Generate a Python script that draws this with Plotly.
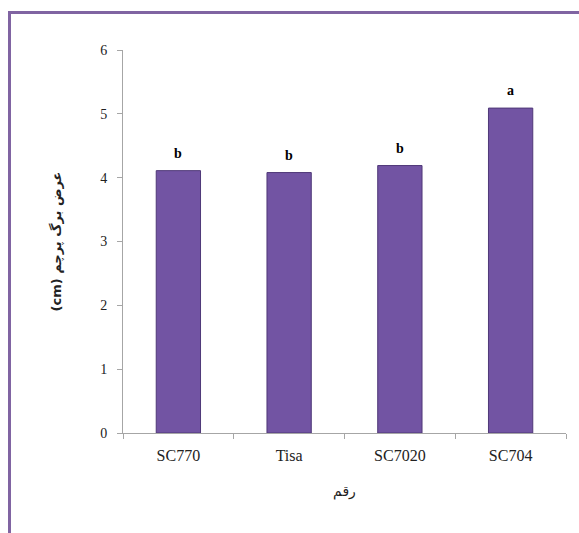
import plotly.graph_objects as go

categories = ["SC770", "Tisa", "SC7020", "SC704"]
values = [4.11, 4.08, 4.19, 5.09]
letters = ["b", "b", "b", "a"]
y_ticks = [0, 1, 2, 3, 4, 5, 6]
x_title = "رقم"
y_title = "(cm) عرض برگ پرچم"

W, H = 579, 533
ML, MR, MT, MB = 123, 13, 50, 100
pw, ph = W - ML - MR, H - MT - MB

def px_x(p):
    return (p - ML) / pw

def px_y(p):
    return (H - MB - p) / ph

fig = go.Figure()
fig.add_trace(go.Bar(
    x=categories, y=values,
    cliponaxis=False,
    width=0.4,
    marker=dict(color="#7254A3", line=dict(color="#4F3878", width=1)),
))

for c, v, t in zip(categories, values, letters):
    fig.add_annotation(x=c, y=v, text=t, showarrow=False, yanchor="bottom", yshift=8,
                       font=dict(family="Liberation Serif", size=14, color="#000000", weight="bold"))

frame_color = "#8064A2"
fig.add_shape(type="line", xref="paper", yref="paper",
              x0=px_x(9.5), x1=px_x(9.5), y0=px_y(H + 5), y1=px_y(12.5),
              line=dict(color=frame_color, width=3))
fig.add_shape(type="line", xref="paper", yref="paper",
              x0=px_x(8), x1=px_x(W + 5), y0=px_y(12.5), y1=px_y(12.5),
              line=dict(color=frame_color, width=3))

fig.update_layout(
    width=W, height=H,
    margin=dict(l=ML, r=MR, t=MT, b=MB),
    paper_bgcolor="white", plot_bgcolor="white",
    showlegend=False,
    font=dict(family="Liberation Serif", color="#222222"),
    xaxis=dict(
        showline=True, linecolor="#A6A6A6", linewidth=1,
        ticks="outside", tickson="boundaries", ticklen=5, tickcolor="#A6A6A6",
        tickfont=dict(family="Liberation Serif", size=16, color="#222222"),
        ticklabelstandoff=8,
        showgrid=False,
        title=dict(text=x_title, font=dict(family="DejaVu Sans", size=14, color="#222222"), standoff=22),
    ),
    yaxis=dict(
        range=[0, 6], tickvals=y_ticks,
        showline=True, linecolor="#A6A6A6", linewidth=1,
        ticks="outside", ticklen=5, tickcolor="#A6A6A6",
        tickfont=dict(family="Liberation Serif", size=14, color="#222222"),
        ticklabelstandoff=7,
        showgrid=False, zeroline=False,
        title=dict(text=y_title, font=dict(family="DejaVu Sans", size=13, color="#222222", weight="bold"), standoff=35),
    ),
)

fig.write_html("out.html", config={"displayModeBar": False},
               post_script="document.body.style.margin='0';document.body.style.overflow='hidden';")
